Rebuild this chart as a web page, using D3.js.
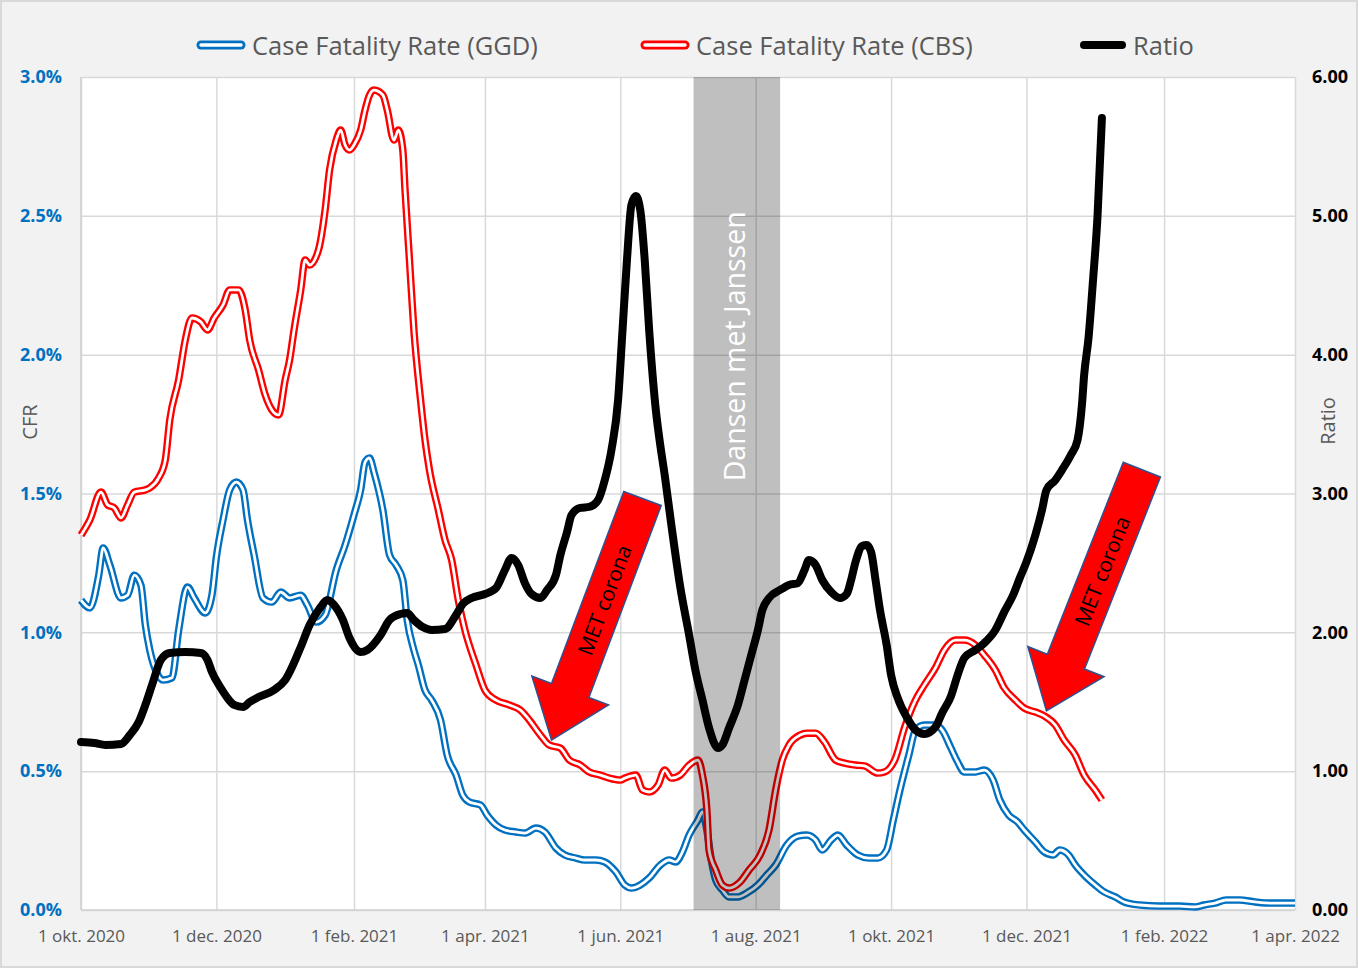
<!DOCTYPE html>
<html><head><meta charset="utf-8">
<script src="https://cdn.jsdelivr.net/npm/d3@7"></script>
<style>html,body{margin:0;padding:0;background:#f2f2f2;} svg{display:block;}</style>
</head><body>
<svg id="c" width="1358" height="968"></svg>
<script>
// ---------- DATA ----------
const xDomain = ["2020-10-01", "2022-04-01"];
const tickDates = ["2020-10-01","2020-12-01","2021-02-01","2021-04-01","2021-06-01","2021-08-01","2021-10-01","2021-12-01","2022-02-01","2022-04-01"];
const tickLabels = ["1 okt. 2020","1 dec. 2020","1 feb. 2021","1 apr. 2021","1 jun. 2021","1 aug. 2021","1 okt. 2021","1 dec. 2021","1 feb. 2022","1 apr. 2022"];
const cfrTicks = [0, 0.5, 1.0, 1.5, 2.0, 2.5, 3.0];
const ratioTicks = [0, 1, 2, 3, 4, 5, 6];
const seriesNames = ["Case Fatality Rate (GGD)", "Case Fatality Rate (CBS)", "Ratio"];

const ggdDates = ["2020-10-01","2020-10-05","2020-10-09","2020-10-11","2020-10-14","2020-10-19","2020-10-22","2020-10-25","2020-10-28","2020-10-30",
"2020-11-01","2020-11-04","2020-11-07","2020-11-11","2020-11-14","2020-11-18","2020-11-21","2020-11-26","2020-11-29","2020-12-01",
"2020-12-04","2020-12-07","2020-12-10","2020-12-13","2020-12-15","2020-12-18","2020-12-22","2020-12-26","2020-12-30","2021-01-03",
"2021-01-08","2021-01-11","2021-01-15","2021-01-19","2021-01-24","2021-01-28","2021-02-01","2021-02-04","2021-02-06","2021-02-08",
"2021-02-10","2021-02-14","2021-02-17","2021-02-20","2021-02-23","2021-02-25","2021-02-28","2021-03-02","2021-03-05","2021-03-08",
"2021-03-12","2021-03-15","2021-03-19","2021-03-22","2021-03-25","2021-03-30","2021-04-02","2021-04-06","2021-04-10","2021-04-15",
"2021-04-19","2021-04-24","2021-04-28","2021-05-03","2021-05-07","2021-05-12","2021-05-16","2021-05-21","2021-05-25","2021-05-30",
"2021-06-03","2021-06-06","2021-06-10","2021-06-14","2021-06-19","2021-06-23","2021-06-26","2021-06-29","2021-07-02","2021-07-06",
"2021-07-08","2021-07-10","2021-07-12","2021-07-14","2021-07-17","2021-07-20","2021-07-24","2021-07-28","2021-08-02","2021-08-06",
"2021-08-10","2021-08-15","2021-08-20","2021-08-24","2021-08-28","2021-08-31","2021-09-04","2021-09-07","2021-09-11","2021-09-16",
"2021-09-21","2021-09-25","2021-09-29","2021-10-02","2021-10-05","2021-10-09","2021-10-12","2021-10-16","2021-10-21","2021-10-24",
"2021-10-28","2021-10-31","2021-11-03","2021-11-08","2021-11-12","2021-11-16","2021-11-19","2021-11-23","2021-11-27","2021-11-30",
"2021-12-05","2021-12-09","2021-12-13","2021-12-16","2021-12-20","2021-12-23","2021-12-27","2022-01-01","2022-01-05","2022-01-10",
"2022-01-14","2022-01-21","2022-01-30","2022-02-08","2022-02-15","2022-02-19","2022-02-24","2022-03-01","2022-03-07","2022-03-14",
"2022-03-21","2022-04-01"];
const ggdValues = [1.116,1.088,1.206,1.304,1.242,1.124,1.134,1.206,1.170,1.026,
0.936,0.857,0.828,0.836,1.008,1.163,1.124,1.070,1.134,1.271,
1.405,1.513,1.541,1.513,1.405,1.279,1.124,1.109,1.145,1.124,
1.134,1.098,1.037,1.062,1.224,1.314,1.423,1.513,1.613,1.628,
1.577,1.441,1.279,1.242,1.188,1.044,0.936,0.882,0.792,0.756,
0.684,0.558,0.486,0.414,0.389,0.378,0.342,0.306,0.288,0.281,
0.277,0.295,0.281,0.223,0.198,0.187,0.180,0.180,0.173,0.137,
0.090,0.079,0.090,0.115,0.162,0.180,0.173,0.209,0.270,0.324,
0.353,0.288,0.180,0.108,0.072,0.047,0.047,0.061,0.090,0.126,
0.162,0.234,0.266,0.270,0.252,0.216,0.252,0.270,0.234,0.198,
0.187,0.187,0.216,0.324,0.432,0.558,0.648,0.666,0.666,0.648,
0.583,0.533,0.497,0.497,0.504,0.468,0.396,0.342,0.317,0.288,
0.245,0.209,0.198,0.216,0.198,0.162,0.126,0.090,0.065,0.047,
0.029,0.018,0.014,0.014,0.011,0.018,0.025,0.036,0.036,0.029,
0.025,0.025];

const cbsDates = ["2020-10-01","2020-10-05","2020-10-10","2020-10-13","2020-10-16","2020-10-19","2020-10-22","2020-10-25","2020-10-30","2020-11-01",
"2020-11-05","2020-11-08","2020-11-10","2020-11-14","2020-11-17","2020-11-20","2020-11-24","2020-11-27","2020-11-30","2020-12-04",
"2020-12-07","2020-12-11","2020-12-14","2020-12-16","2020-12-20","2020-12-23","2020-12-26","2020-12-29","2021-01-01","2021-01-03",
"2021-01-05","2021-01-08","2021-01-10","2021-01-12","2021-01-16","2021-01-19","2021-01-21","2021-01-24","2021-01-26","2021-01-28",
"2021-01-30","2021-02-01","2021-02-04","2021-02-06","2021-02-08","2021-02-10","2021-02-14","2021-02-16","2021-02-19","2021-02-21",
"2021-02-23","2021-02-24","2021-02-26","2021-02-28","2021-03-03","2021-03-05","2021-03-07","2021-03-11","2021-03-14","2021-03-17",
"2021-03-20","2021-03-23","2021-03-28","2021-04-01","2021-04-06","2021-04-12","2021-04-17","2021-04-21","2021-04-26","2021-04-30",
"2021-05-05","2021-05-09","2021-05-14","2021-05-18","2021-05-23","2021-05-27","2021-06-01","2021-06-03","2021-06-08","2021-06-11",
"2021-06-14","2021-06-18","2021-06-21","2021-06-24","2021-06-28","2021-07-02","2021-07-06","2021-07-08","2021-07-10","2021-07-11",
"2021-07-14","2021-07-17","2021-07-20","2021-07-25","2021-07-29","2021-08-03","2021-08-07","2021-08-10","2021-08-13","2021-08-16",
"2021-08-21","2021-08-24","2021-08-28","2021-09-01","2021-09-06","2021-09-10","2021-09-15","2021-09-19","2021-09-25","2021-09-28",
"2021-10-03","2021-10-07","2021-10-12","2021-10-16","2021-10-21","2021-10-25","2021-10-30","2021-11-03","2021-11-08","2021-11-12",
"2021-11-17","2021-11-21","2021-11-26","2021-11-30","2021-12-05","2021-12-09","2021-12-14","2021-12-18","2021-12-23","2021-12-27",
"2022-01-01","2022-01-04"];
const cbsValues = [1.350,1.405,1.505,1.459,1.448,1.412,1.459,1.505,1.513,1.520,
1.556,1.621,1.765,1.909,2.053,2.132,2.118,2.089,2.132,2.179,
2.233,2.233,2.161,2.053,1.945,1.855,1.801,1.783,1.909,1.981,
2.089,2.233,2.341,2.323,2.377,2.521,2.665,2.773,2.809,2.755,
2.737,2.755,2.809,2.881,2.935,2.953,2.935,2.881,2.773,2.809,
2.737,2.593,2.341,2.089,1.837,1.693,1.585,1.441,1.333,1.261,
1.116,1.008,0.882,0.792,0.756,0.738,0.720,0.684,0.630,0.594,
0.583,0.540,0.522,0.497,0.486,0.475,0.468,0.475,0.486,0.432,
0.425,0.450,0.504,0.475,0.486,0.522,0.540,0.486,0.360,0.216,
0.144,0.090,0.079,0.101,0.144,0.198,0.288,0.432,0.540,0.594,
0.630,0.637,0.637,0.605,0.540,0.529,0.522,0.519,0.493,0.497,
0.547,0.655,0.756,0.810,0.872,0.936,0.972,0.972,0.954,0.918,
0.864,0.800,0.756,0.727,0.713,0.699,0.666,0.612,0.558,0.486,
0.432,0.396];

const ratioDates = ["2020-10-01","2020-10-07","2020-10-12","2020-10-19","2020-10-23","2020-10-27","2020-10-30","2020-11-02","2020-11-06","2020-11-10",
"2020-11-17","2020-11-24","2020-11-27","2020-11-29","2020-12-03","2020-12-06","2020-12-09","2020-12-13","2020-12-16","2020-12-20",
"2020-12-27","2021-01-01","2021-01-08","2021-01-12","2021-01-17","2021-01-20","2021-01-23","2021-01-27","2021-01-30","2021-02-04",
"2021-02-07","2021-02-13","2021-02-17","2021-02-22","2021-02-25","2021-02-28","2021-03-04","2021-03-08","2021-03-14","2021-03-19",
"2021-03-22","2021-03-26","2021-04-01","2021-04-06","2021-04-10","2021-04-13","2021-04-16","2021-04-19","2021-04-22","2021-04-26",
"2021-04-29","2021-05-03","2021-05-05","2021-05-08","2021-05-10","2021-05-14","2021-05-18","2021-05-22","2021-05-25","2021-05-28",
"2021-05-31","2021-06-02","2021-06-04","2021-06-06","2021-06-08","2021-06-10","2021-06-12","2021-06-14","2021-06-17","2021-06-19",
"2021-06-21","2021-06-24","2021-06-28","2021-07-02","2021-07-05","2021-07-08","2021-07-11","2021-07-15","2021-07-17","2021-07-20",
"2021-07-24","2021-07-27","2021-07-30","2021-08-02","2021-08-04","2021-08-07","2021-08-12","2021-08-16","2021-08-20","2021-08-23",
"2021-08-25","2021-08-28","2021-08-31","2021-09-04","2021-09-08","2021-09-11","2021-09-13","2021-09-15","2021-09-18","2021-09-20",
"2021-09-22","2021-09-24","2021-09-26","2021-09-29","2021-10-01","2021-10-04","2021-10-08","2021-10-12","2021-10-16","2021-10-21",
"2021-10-24","2021-10-28","2021-10-31","2021-11-03","2021-11-08","2021-11-12","2021-11-17","2021-11-21","2021-11-25","2021-11-28",
"2021-12-01","2021-12-05","2021-12-08","2021-12-10","2021-12-14","2021-12-17","2021-12-21","2021-12-24","2021-12-26","2021-12-27",
"2021-12-29","2021-12-31","2022-01-02","2022-01-04"];
const ratioValues = [1.210,1.203,1.189,1.196,1.261,1.354,1.477,1.621,1.801,1.851,
1.858,1.851,1.801,1.714,1.599,1.527,1.477,1.462,1.498,1.534,
1.585,1.657,1.894,2.053,2.183,2.233,2.197,2.089,1.959,1.858,
1.873,1.981,2.089,2.132,2.139,2.089,2.038,2.017,2.024,2.125,
2.204,2.247,2.276,2.319,2.449,2.536,2.485,2.355,2.276,2.247,
2.305,2.413,2.557,2.723,2.845,2.896,2.903,2.953,3.097,3.313,
3.674,4.178,4.682,5.078,5.143,5.042,4.682,4.178,3.602,3.349,
3.133,2.773,2.327,1.981,1.714,1.513,1.311,1.167,1.189,1.311,
1.477,1.657,1.837,2.017,2.161,2.247,2.305,2.341,2.355,2.449,
2.521,2.485,2.377,2.291,2.247,2.276,2.377,2.507,2.622,2.629,
2.579,2.377,2.161,1.909,1.693,1.527,1.390,1.297,1.268,1.318,
1.419,1.541,1.693,1.815,1.873,1.923,2.017,2.147,2.269,2.391,
2.507,2.701,2.881,3.025,3.097,3.169,3.277,3.385,3.638,3.854,
4.127,4.538,4.992,5.705];

// annotations (data coordinates)
const bandDates = ["2021-07-04", "2021-08-12"];
const bandLabel = "Dansen met Janssen";
const arrowTailDates = ["2021-06-11", "2022-01-22"];
const arrowTailValues = [1.482, 1.586];
const arrowTipDates = ["2021-05-01", "2021-12-10"];
const arrowTipValues = [0.612, 0.717];
const arrowLabel = "MET corona";

// ---------- DRAW ----------
const W = 1358, H = 968;
const M = {l: 81, r: 1295, t: 77, b: 910};
const FONT = "'Open Sans', 'Noto Sans', sans-serif";
const parse = d3.utcParse("%Y-%m-%d");
const svg = d3.select("#c");

const x = d3.scaleUtc().domain(xDomain.map(parse)).range([M.l, M.r]);
const yL = d3.scaleLinear().domain([0, 3]).range([M.b, M.t]);
const yR = d3.scaleLinear().domain([0, 6]).range([M.b, M.t]);

svg.append("rect").attr("x", 1).attr("y", 1).attr("width", W - 2).attr("height", H - 2)
  .attr("fill", "#f2f2f2").attr("stroke", "#d9d9d9").attr("stroke-width", 2);
svg.append("rect").attr("x", M.l).attr("y", M.t).attr("width", M.r - M.l).attr("height", M.b - M.t)
  .attr("fill", "#ffffff");

// gridlines
const gridY = svg.append("g").attr("transform", `translate(${M.l},0)`)
  .call(d3.axisLeft(yL).tickValues(cfrTicks).tickSize(-(M.r - M.l)).tickFormat(""));
gridY.select(".domain").remove();
gridY.selectAll("line").attr("stroke", "#d9d9d9").attr("stroke-width", 1.5);
const gridX = svg.append("g").attr("transform", `translate(0,${M.b})`)
  .call(d3.axisBottom(x).tickValues(tickDates.map(parse)).tickSize(-(M.b - M.t)).tickFormat(""));
gridX.select(".domain").remove();
gridX.selectAll("line").attr("stroke", "#d9d9d9").attr("stroke-width", 1.5);

// axis lines
svg.append("line").attr("x1", M.l).attr("x2", M.l).attr("y1", M.t).attr("y2", M.b)
  .attr("stroke", "#d0d0d0").attr("stroke-width", 1.5);
svg.append("line").attr("x1", M.l).attr("x2", M.r).attr("y1", M.b).attr("y2", M.b)
  .attr("stroke", "#d0d0d0").attr("stroke-width", 1.5);

// axes labels
const axL = svg.append("g").attr("transform", `translate(${M.l},0)`)
  .call(d3.axisLeft(yL).tickValues(cfrTicks).tickSize(0).tickPadding(19).tickFormat(d => d.toFixed(1) + "%"));
axL.select(".domain").remove();
axL.selectAll("text").attr("font-family", FONT).attr("font-size", 18).attr("font-weight", "bold").attr("fill", "#0070c0");

const axR = svg.append("g").attr("transform", `translate(${M.r},0)`)
  .call(d3.axisRight(yR).tickValues(ratioTicks).tickSize(0).tickPadding(17).tickFormat(d => d.toFixed(2)));
axR.select(".domain").remove();
axR.selectAll("text").attr("font-family", FONT).attr("font-size", 18).attr("font-weight", "bold").attr("fill", "#000");

const axB = svg.append("g").attr("transform", `translate(0,${M.b})`)
  .call(d3.axisBottom(x).tickValues(tickDates.map(parse)).tickSize(0).tickPadding(20).tickFormat((d, i) => tickLabels[i]));
axB.select(".domain").remove();
axB.selectAll("text").attr("font-family", FONT).attr("font-size", 17).attr("fill", "#595959");

svg.append("text").attr("transform", `translate(37,422) rotate(-90)`)
  .attr("text-anchor", "middle").attr("font-family", FONT).attr("font-size", 20).attr("fill", "#595959").text("CFR");
svg.append("text").attr("transform", `translate(1335,421) rotate(-90)`)
  .attr("text-anchor", "middle").attr("font-family", FONT).attr("font-size", 20).attr("fill", "#595959").text("Ratio");

// series
const mk = (dates, vals) => dates.map((d, i) => ({date: parse(d), v: vals[i]}));
const ggd = mk(ggdDates, ggdValues), cbs = mk(cbsDates, cbsValues), ratio = mk(ratioDates, ratioValues);
const lineL = d3.line().x(d => x(d.date)).y(d => yL(d.v)).curve(d3.curveMonotoneX);
const lineR = d3.line().x(d => x(d.date)).y(d => yR(d.v)).curve(d3.curveMonotoneX);

function doubleLine(data, color) {
  svg.append("path").datum(data).attr("d", lineL).attr("fill", "none").attr("stroke", color)
    .attr("stroke-width", 7.5).attr("stroke-linejoin", "round");
  svg.append("path").datum(data).attr("d", lineL).attr("fill", "none").attr("stroke", "#fff")
    .attr("stroke-width", 2.8).attr("stroke-linejoin", "round");
}
doubleLine(ggd, "#0070c0");
doubleLine(cbs, "#ff0000");
svg.append("path").datum(ratio).attr("d", lineR).attr("fill", "none").attr("stroke", "#000")
  .attr("stroke-width", 8).attr("stroke-linejoin", "round").attr("stroke-linecap", "round");

// band
const bx0 = x(parse(bandDates[0])), bx1 = x(parse(bandDates[1]));
svg.append("rect").attr("x", bx0).attr("y", M.t).attr("width", bx1 - bx0).attr("height", M.b - M.t)
  .attr("fill", "#000").attr("fill-opacity", 0.25);
svg.append("text").attr("transform", `translate(${(bx0 + bx1) / 2 - 3},${yL(2.03)}) rotate(-90)`)
  .attr("text-anchor", "middle").attr("dominant-baseline", "central")
  .attr("font-family", FONT).attr("font-size", 28.5).attr("fill", "#fff").text(bandLabel);

// arrows
arrowTailDates.forEach((td, i) => {
  const tx = x(parse(td)), ty = yL(arrowTailValues[i]);
  const px = x(parse(arrowTipDates[i])), py = yL(arrowTipValues[i]);
  const len = Math.hypot(px - tx, py - ty);
  const ux = (px - tx) / len, uy = (py - ty) / len;
  const nx = -uy, ny = ux;
  const sw = 20, hw = 41, hl = 53;
  const bxp = px - ux * hl, byp = py - uy * hl;
  const pts = [
    [tx + nx * sw, ty + ny * sw], [bxp + nx * sw, byp + ny * sw], [bxp + nx * hw, byp + ny * hw],
    [px, py],
    [bxp - nx * hw, byp - ny * hw], [bxp - nx * sw, byp - ny * sw], [tx - nx * sw, ty - ny * sw]
  ];
  svg.append("polygon").attr("points", pts.map(p => p.join(",")).join(" "))
    .attr("fill", "#ff0000").attr("stroke", "#2f528f").attr("stroke-width", 1.5).attr("stroke-linejoin", "miter");
  const cx = tx + (px - tx) * 0.42, cy = ty + (py - ty) * 0.42;
  const ang = Math.atan2(ty - py, tx - px) * 180 / Math.PI;
  svg.append("text").attr("transform", `translate(${cx},${cy}) rotate(${ang})`)
    .attr("text-anchor", "middle").attr("dominant-baseline", "central")
    .attr("font-family", FONT).attr("font-size", 21).attr("fill", "#000").text(arrowLabel);
});

// legend
const legendX = [197, 641, 1080];
const legendColors = ["#0070c0", "#ff0000", "#000"];
seriesNames.forEach((name, i) => {
  const lx = legendX[i], ly = 45;
  if (i < 2) {
    svg.append("line").attr("x1", lx + 4).attr("x2", lx + 44).attr("y1", ly).attr("y2", ly)
      .attr("stroke", legendColors[i]).attr("stroke-width", 9).attr("stroke-linecap", "round");
    svg.append("line").attr("x1", lx + 4).attr("x2", lx + 44).attr("y1", ly).attr("y2", ly)
      .attr("stroke", "#fff").attr("stroke-width", 3.5).attr("stroke-linecap", "round");
  } else {
    svg.append("line").attr("x1", lx + 4).attr("x2", lx + 42).attr("y1", ly).attr("y2", ly)
      .attr("stroke", "#000").attr("stroke-width", 8).attr("stroke-linecap", "round");
  }
  svg.append("text").attr("x", lx + (i < 2 ? 55 : 53)).attr("y", ly).attr("dominant-baseline", "central")
    .attr("font-family", FONT).attr("font-size", 25.5).attr("fill", "#595959").text(name);
});
</script>
</body></html>
